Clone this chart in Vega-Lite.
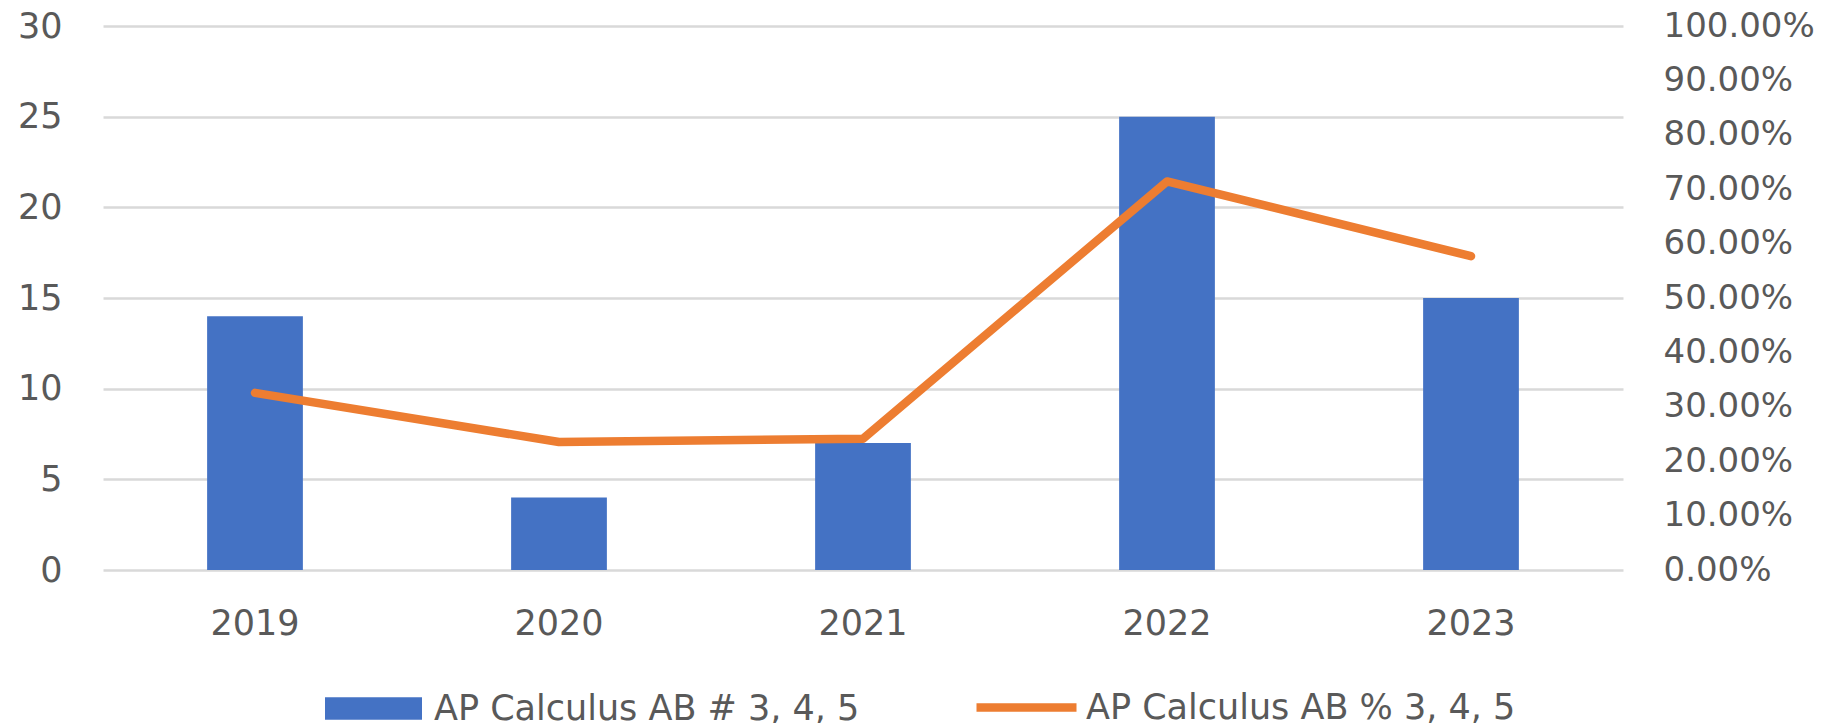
{
  "$schema": "https://vega.github.io/schema/vega-lite/v6.json",
  "autosize": {"type": "none"},
  "width": 1520,
  "height": 544,
  "padding": {"left": 103, "top": 26, "right": 215, "bottom": 153},
  "background": "white",
  "config": {
    "view": {"stroke": null},
    "font": "DejaVu Sans",
    "axis": {"labelFont": "DejaVu Sans", "labelFontSize": 35, "labelColor": "#595959", "domain": false, "ticks": false, "title": null},
    "legend": {"labelFont": "DejaVu Sans", "labelFontSize": 35, "labelColor": "#595959", "padding": 0, "title": null}
  },
  "data": {
    "values": [
      {"year": "2019", "count": 14, "pct": 0.3256},
      {"year": "2020", "count": 4, "pct": 0.2353},
      {"year": "2021", "count": 7, "pct": 0.2414},
      {"year": "2022", "count": 25, "pct": 0.7143},
      {"year": "2023", "count": 15, "pct": 0.5769}
    ]
  },
  "encoding": {
    "x": {
      "field": "year", "type": "ordinal",
      "scale": {"paddingInner": 0.685, "paddingOuter": 0.3425},
      "axis": {"labelAngle": 0, "labelPadding": 36, "grid": false}
    }
  },
  "layer": [
    {
      "mark": {"type": "bar", "color": "#4472C4"},
      "encoding": {
        "y": {
          "field": "count", "type": "quantitative",
          "scale": {"domain": [0, 30], "nice": false},
          "axis": {"values": [0, 5, 10, 15, 20, 25, 30], "labelPadding": 41, "grid": true, "gridColor": "#D9D9D9", "gridWidth": 2.5}
        },
        "fill": {
          "datum": "AP Calculus AB # 3, 4, 5",
          "type": "nominal",
          "scale": {"range": ["#4472C4"]},
          "legend": {
            "orient": "none", "legendX": 222, "legendY": 634,
            "symbolType": "M-1,-0.23H1V0.23H-1Z", "symbolSize": 9409,
            "symbolStrokeWidth": 0, "symbolOpacity": 1, "labelOffset": 12, "labelLimit": 1000
          }
        }
      }
    },
    {
      "mark": {"type": "line", "strokeWidth": 8.5, "strokeCap": "round", "strokeJoin": "round"},
      "encoding": {
        "y": {
          "field": "pct", "type": "quantitative",
          "scale": {"domain": [0, 1], "nice": false},
          "axis": {"orient": "right", "values": [0, 0.1, 0.2, 0.3, 0.4, 0.5, 0.6, 0.7, 0.8, 0.9, 1], "format": ".2%", "labelPadding": 40, "labelFontSize": 34, "grid": false}
        },
        "stroke": {
          "datum": "AP Calculus AB % 3, 4, 5",
          "type": "nominal",
          "scale": {"range": ["#ED7D31"]},
          "legend": {
            "orient": "none", "legendX": 869, "legendY": 627,
            "symbolType": "M-1,0H1", "symbolSize": 10000,
            "symbolStrokeWidth": 8.5, "labelOffset": 5, "labelLimit": 1000
          }
        }
      }
    }
  ],
  "resolve": {"scale": {"y": "independent", "fill": "independent", "stroke": "independent"}}
}
